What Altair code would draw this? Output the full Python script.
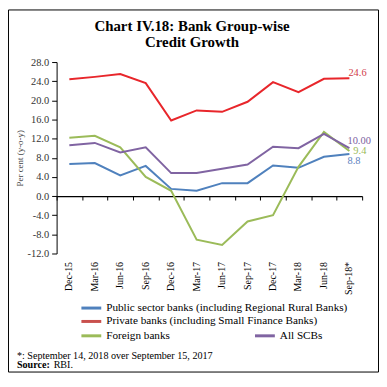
import altair as alt
import pandas as pd

months = ["Dec-15", "Mar-16", "Jun-16", "Sep-16", "Dec-16", "Mar-17",
          "Jun-17", "Sep-17", "Dec-17", "Mar-18", "Jun-18", "Sep-18*"]
series_names = ["Public sector banks (including Regional Rural Banks)",
                "Private banks (including Small Finance Banks)",
                "Foreign banks",
                "All SCBs"]
public = [6.7, 6.9, 4.3, 6.3, 1.5, 1.1, 2.7, 2.7, 6.4, 5.9, 8.2, 8.8]
private = [24.4, 24.9, 25.5, 23.6, 15.8, 17.9, 17.6, 19.7, 23.8, 21.7, 24.5, 24.6]
foreign = [12.2, 12.6, 10.2, 4.0, 1.1, -9.1, -10.2, -5.3, -4.0, 6.1, 13.4, 9.4]
all_scbs = [10.6, 11.1, 9.1, 10.2, 4.8, 4.8, 5.7, 6.6, 10.3, 10.0, 13.0, 10.0]
y_ticks = [-12, -8, -4, 0, 4, 8, 12, 16, 20, 24, 28]

line_colors = ["#4f81bd", "#e8262b", "#9bbb59", "#8064a2"]
legend_colors = ["#4f81bd", "#c9504d", "#9bbb59", "#8064a2"]
label_colors = ["#5b82c0", "#d2404a", "#9bbb59", "#7a62a0"]
label_formats = [".1f", ".1f", ".1f", ".2f"]

title_lines = ["Chart IV.18: Bank Group-wise", "Credit Growth"]
footnote = "*: September 14, 2018 over September 15, 2017"
source_bold = "Source:"
source_text = "RBI."

rows = []
for name, vals in zip(series_names, [public, private, foreign, all_scbs]):
    for m, v in zip(months, vals):
        rows.append({"month": m, "series": name, "value": v})
df = pd.DataFrame(rows)

W, H = 308, 193
SERIF = "Liberation Serif"

xscale = alt.Scale(type="band", domain=months, paddingInner=0, paddingOuter=0)
yscale = alt.Scale(domain=[y_ticks[0], y_ticks[-1]], nice=False, zero=False)

yaxis = alt.Axis(values=y_ticks, labelExpr="replace(format(datum.value, '.1f'), '\u2212', '-')",
                 grid=False, domainColor="black",
                 tickColor="black", tickSize=5, labelFont=SERIF, labelFontSize=10.5,
                 labelColor="#333333", labelPadding=3,
                 title="Per cent (y-o-y)", titleFont=SERIF, titleFontSize=9,
                 titleFontWeight="normal", titleColor="#444444", titleAngle=270,
                 titleX=-37, titleY=H / 2, titleAlign="center", titleBaseline="middle")

xaxis_labels = alt.Axis(orient="bottom", domain=False, ticks=False, labelAngle=270,
                        labelFont=SERIF, labelFontSize=10, labelColor="black",
                        labelPadding=8, title=None, grid=False)

zero_offset = -H * (0 - y_ticks[0]) / (y_ticks[-1] - y_ticks[0])
xaxis_zero = alt.Axis(orient="bottom", offset=zero_offset, labels=False, domain=True,
                      domainColor="black", domainWidth=1.2, ticks=True, tickColor="black",
                      tickSize=4, tickBand="extent", grid=False, title=None)

color = alt.Color("series:N", scale=alt.Scale(domain=series_names, range=line_colors),
                  legend=None)

def X(axis):
    return alt.X("month:N", scale=xscale, sort=months, bandPosition=0.5, axis=axis)

Y = alt.Y("value:Q", scale=yscale, axis=yaxis)

layers = []
lines = alt.Chart(df).mark_line(strokeWidth=2).encode(
    x=X(xaxis_labels), y=Y, color=color)
layers.append(lines)

# end labels
label_offsets = [(-2, 7), (-1, -5), (4, 0), (-2, -7)]
end = df[df["month"] == months[-1]]
for i, name in enumerate(series_names):
    dx, dy = label_offsets[i]
    t = alt.Chart(end[end["series"] == name]).mark_text(
        align="left", baseline="middle", dx=dx, dy=dy, font=SERIF, fontSize=10.5,
        color=label_colors[i]).encode(
        x=X(xaxis_zero if i == 0 else None), y=Y,
        text=alt.Text("value:Q", format=label_formats[i]))
    layers.append(t)

one = alt.Data(values=[{}])

# title
for j, line in enumerate(title_lines):
    layers.append(alt.Chart(one).mark_text(
        text=line, font=SERIF, fontSize=15, fontWeight="bold", color="black",
        align="center", baseline="middle").encode(
        x=alt.value(136.5), y=alt.value(-36 + 16 * j)))

# legend
legend_pos = [(25, 248), (25, 261.5), (25, 276), (200, 276)]
for i, name in enumerate(series_names):
    lx, ly = legend_pos[i]
    layers.append(alt.Chart(one).mark_rule(strokeWidth=3, color=legend_colors[i]).encode(
        x=alt.value(lx), x2=alt.value(lx + 20), y=alt.value(ly)))
    layers.append(alt.Chart(one).mark_text(
        text=name, font=SERIF, fontSize=11.3, color="black", align="left",
        baseline="middle").encode(x=alt.value(lx + 25), y=alt.value(ly)))

# footnote and source
layers.append(alt.Chart(one).mark_text(
    text=footnote, font=SERIF, fontSize=10.2, color="black", align="left",
    baseline="middle").encode(x=alt.value(-40), y=alt.value(296)))
layers.append(alt.Chart(one).mark_text(
    text=source_bold, font=SERIF, fontSize=10.2, fontWeight="bold", color="black",
    align="left", baseline="middle").encode(x=alt.value(-40), y=alt.value(305.5)))
layers.append(alt.Chart(one).mark_text(
    text=source_text, font=SERIF, fontSize=10.2, color="black", align="left",
    baseline="middle").encode(x=alt.value(-3), y=alt.value(305.5)))

# frame
layers.append(alt.Chart(one).mark_rect(fill=None, stroke="black", strokeWidth=1).encode(
    x=alt.value(-48.5), x2=alt.value(324.5), y=alt.value(-52.5), y2=alt.value(312.5)))

chart = alt.layer(*layers).resolve_axis(x="independent").properties(
    width=W, height=H,
    padding={"left": 49, "top": 53, "right": 17, "bottom": 120},
    autosize=alt.AutoSizeParams(type="none"),
).configure_view(stroke=None)

chart.save("out.html", embed_options={"renderer": "svg", "actions": False})
